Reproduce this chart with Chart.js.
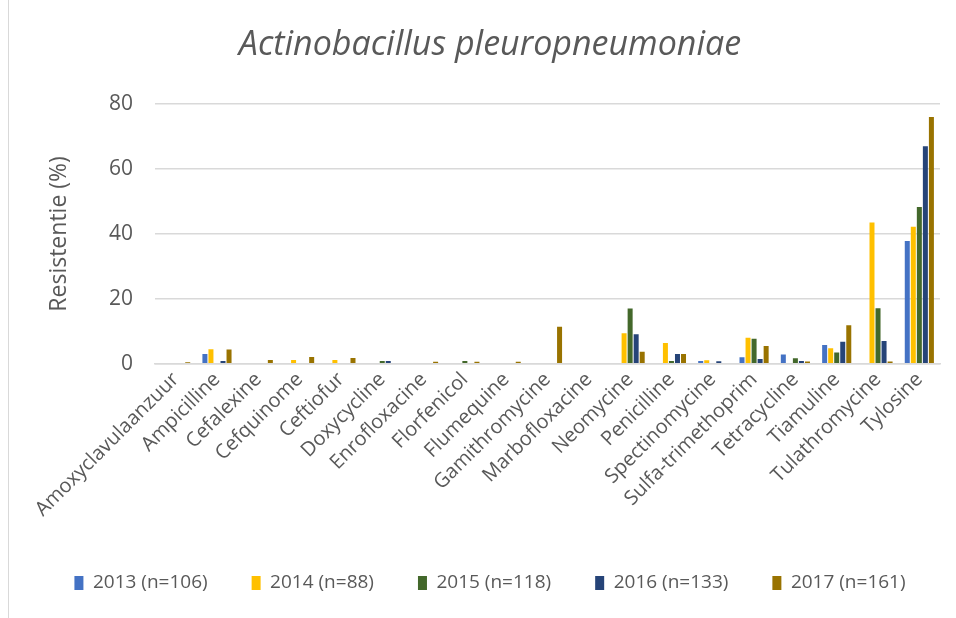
<!DOCTYPE html>
<html>
<head>
<meta charset="utf-8">
<script src="https://cdn.jsdelivr.net/npm/chart.js@4"></script>
<style>
  html, body { margin: 0; padding: 0; background: #fff; overflow: hidden; width: 956px; height: 618px; }
  #wrap { position: relative; width: 956px; height: 618px; overflow: hidden; }
  #frame { position: absolute; left: 8px; top: 0; width: 0; height: 618px; border-left: 1.5px solid #d9d9d9; z-index: 2; }
  canvas { position: absolute; left: 0; top: 0; }
</style>
</head>
<body>
<div id="wrap">
  <div id="frame"></div>
  <canvas id="c" width="980" height="618"></canvas>
</div>
<script>
const categories = ["Amoxyclavulaanzuur","Ampicilline","Cefalexine","Cefquinome","Ceftiofur","Doxycycline","Enrofloxacine","Florfenicol","Flumequine","Gamithromycine","Marbofloxacine","Neomycine","Penicilline","Spectinomycine","Sulfa-trimethoprim","Tetracycline","Tiamuline","Tulathromycine","Tylosine"];
const seriesLabels = ["2013 (n=106)","2014 (n=88)","2015 (n=118)","2016 (n=133)","2017 (n=161)"];
const values2013 = [0, 3.0, 0, 0, 0, 0, 0, 0, 0, 0, 0, 0, 0, 0.9, 2.0, 2.9, 5.8, 0, 37.8];
const values2014 = [0, 4.5, 0, 1.2, 1.2, 0, 0, 0, 0, 0, 0, 9.4, 6.4, 1.1, 8.0, 0, 4.8, 43.5, 42.2];
const values2015 = [0, 0, 0, 0, 0, 0.9, 0, 0.9, 0, 0, 0, 17.0, 0.9, 0, 7.7, 1.7, 3.5, 17.1, 48.3];
const values2016 = [0, 0.9, 0, 0, 0, 0.9, 0, 0, 0, 0, 0, 9.1, 3.0, 0.8, 1.5, 0.9, 6.8, 7.0, 67.0];
const values2017 = [0.5, 4.4, 1.2, 2.1, 1.8, 0, 0.6, 0.6, 0.6, 11.4, 0, 3.7, 3.0, 0, 5.5, 0.7, 11.9, 0.7, 76.0];
const yTicks = [0, 20, 40, 60, 80];
const colors = ["#4472C4", "#FFC000", "#43682B", "#264478", "#997300"];

const allValues = [values2013, values2014, values2015, values2016, values2017];
const FONT = "'Open Sans', 'Liberation Sans', sans-serif";
const TEXT = "#595959";

new Chart(document.getElementById('c'), {
  type: 'bar',
  data: {
    labels: categories,
    datasets: allValues.map((v, i) => ({
      label: seriesLabels[i],
      data: v,
      backgroundColor: colors[i],
      borderWidth: 0,
      categoryPercentage: 0.73,
      barPercentage: 0.83,
      yAxisID: 'y'
    }))
  },
  options: {
    responsive: false,
    animation: false,
    devicePixelRatio: 1,
    layout: { padding: { left: 0, right: 0, top: 0, bottom: 15.6 } },
    plugins: {
      title: {
        display: true,
        text: 'Actinobacillus pleuropneumoniae',
        color: TEXT,
        font: { family: FONT, size: 34, style: 'italic', weight: 'normal', lineHeight: 1.2 },
        padding: { top: 24.6, bottom: 38.6 }
      },
      legend: {
        position: 'bottom',
        labels: {
          color: TEXT,
          font: { family: FONT, size: 19 },
          boxWidth: 9,
          boxHeight: 14,
          padding: 44
        }
      },
      tooltip: { enabled: false }
    },
    scales: {
      x: {
        offset: true,
        grid: { display: false, drawTicks: false },
        border: { display: true, color: '#d9d9d9', width: 1.5 },
        ticks: {
          color: TEXT,
          font: { family: FONT, size: 20 },
          minRotation: 45,
          maxRotation: 45,
          autoSkip: false,
          padding: 4
        },
        afterFit: (s) => { s.height = 165.6; }
      },
      y: {
        min: 0,
        max: 80,
        afterBuildTicks: (s) => { s.ticks = yTicks.map(v => ({ value: v })); },
        grid: { color: '#d9d9d9', lineWidth: 1.5, drawTicks: false },
        border: { display: false },
        ticks: {
          color: TEXT,
          font: { family: FONT, size: 21 },
          padding: 22
        },
        title: {
          display: true,
          text: 'Resistentie (%)',
          color: TEXT,
          font: { family: FONT, size: 23 },
          padding: { top: 46, bottom: 0 }
        },
        afterFit: (s) => { s.width = 155; }
      },
      yRight: {
        type: 'linear',
        position: 'right',
        display: true,
        grid: { display: false, drawTicks: false },
        border: { display: false },
        ticks: { display: false },
        afterFit: (s) => { s.width = 40; }
      }
    }
  }
});
</script>
</body>
</html>
